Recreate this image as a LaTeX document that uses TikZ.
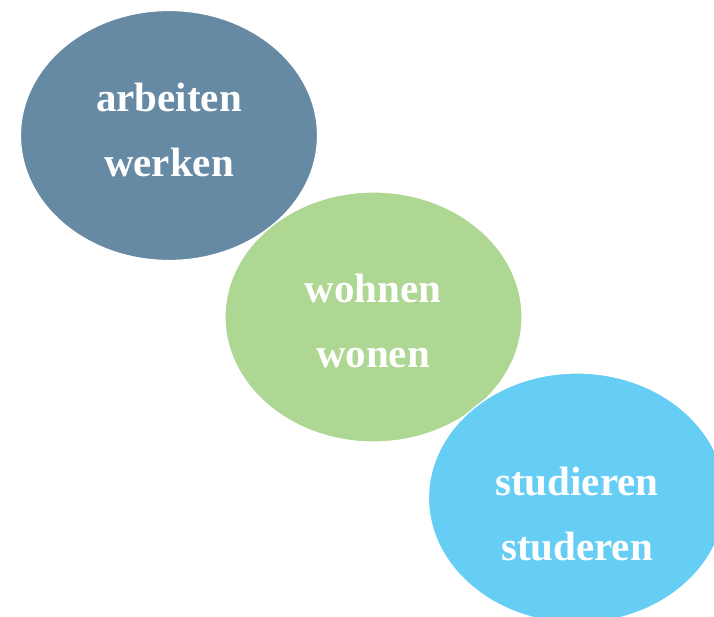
\documentclass[tikz,border=0pt]{standalone}
\usepackage{fontspec}
\setmainfont{Liberation Serif}
\usetikzlibrary{shapes.geometric}
\definecolor{cgrey}{HTML}{6689A4}
\definecolor{cgreen}{HTML}{ADD792}
\definecolor{cblue}{HTML}{66CDF4}
\begin{document}
\begin{tikzpicture}[x=1pt,y=-1pt,
  blob/.style={ellipse, draw=white, line width=1.2pt, minimum width=297pt, minimum height=250pt, inner sep=0pt},
  lbl/.style={text=white, font=\fontsize{41}{65}\selectfont\bfseries, align=center}]
\useasboundingbox (0,0) rectangle (714,617);
\clip (0,0) rectangle (714,617);
\node[blob, fill=cgrey] (e1) at (169,135.5) {};
\node[blob, fill=cgreen] (e2) at (373.5,317) {};
\node[blob, fill=cblue] (e3) at (577,498) {};
\node[lbl] (t1) at (169,130) {arbeiten\\werken};
\node[lbl] (t2) at (373,321) {wohnen\\wonen};
\node[lbl] (t3) at (577,514) {studieren\\studeren};
\end{tikzpicture}
\end{document}
